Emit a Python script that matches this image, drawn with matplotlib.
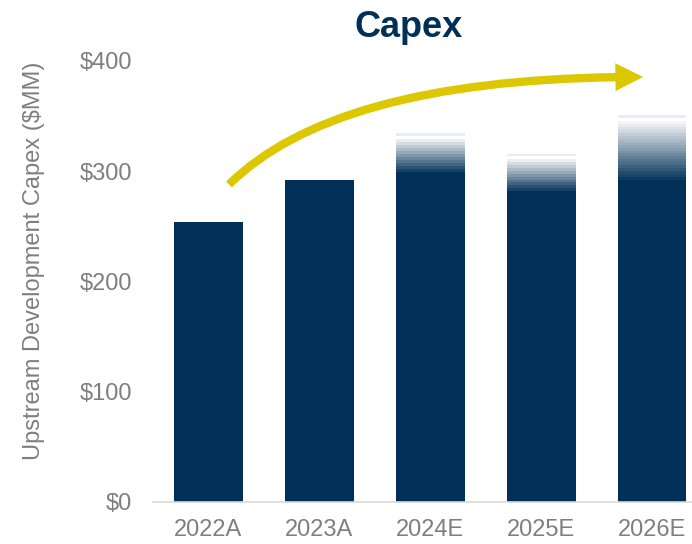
import matplotlib
matplotlib.use("Agg")
import matplotlib.pyplot as plt
import numpy as np
from matplotlib.patches import FancyArrowPatch
from matplotlib.path import Path
from matplotlib.colors import to_rgb

plt.rcParams['font.family'] = ['Liberation Sans', 'DejaVu Sans']

# Upstream development capex ($MM): actuals, and low/high range for estimates
categories = ['2022A', '2023A', '2024E', '2025E', '2026E']
capex_low = [254, 292, 299, 282, 292]
capex_high = [254, 292, 335, 316, 351]
y_ticks = [0, 100, 200, 300, 400]
y_tick_labels = ['$0', '$100', '$200', '$300', '$400']

NAVY = '#003057'
GRAY_TEXT = '#7F7F7F'
YELLOW = '#DCC800'
BAR_W = 0.62
BAND_UNITS = 2.7      # approximate height of one fade band, in $MM

fig = plt.figure(figsize=(6.92, 5.44), dpi=100)
ax = fig.add_axes([153 / 692, 42 / 544, 539 / 692, 441 / 544])

x = np.arange(len(categories))
ax.bar(x, capex_low, width=BAR_W, color=NAVY, zorder=2)

# Estimate range: fading bands from the low case up to the high case,
# topped by a thin light cap separated by a white gap
navy_rgb = np.array(to_rgb(NAVY))
white = np.ones(3)
for xi, lo, hi in zip(x, capex_low, capex_high):
    if hi <= lo:
        continue
    n = max(4, int(round((hi - lo) / BAND_UNITS)))
    h = (hi - lo) / n
    for k in range(n):
        if k == n - 1:
            col = '#E9ECF0'
        elif k == n - 2:
            col = 'white'
        else:
            t = (k + 1) / (n - 1)
            col = tuple(navy_rgb * (1 - t) + white * t)
        ax.bar(xi, h, bottom=lo + k * h, width=BAR_W, color=col,
               linewidth=0, zorder=2)

ax.set_xlim(-0.5, 4.36)
ax.set_ylim(0, 400)
ax.set_xticks(x)
ax.set_xticklabels(categories)
ax.set_yticks(y_ticks)
ax.set_yticklabels(y_tick_labels)
ax.tick_params(axis='both', length=0, labelsize=17, colors=GRAY_TEXT)
ax.tick_params(axis='x', pad=12)
ax.tick_params(axis='y', pad=15)

for side in ['top', 'right', 'left']:
    ax.spines[side].set_visible(False)
ax.spines['bottom'].set_color('#D9D9D9')
ax.spines['bottom'].set_linewidth(1.2)

ax.set_ylabel('Upstream Development Capex ($MM)', fontsize=17, color=GRAY_TEXT)
ax.yaxis.set_label_coords(-0.201, 0.546)

# Growth arrow sweeping over the bars
arrow_path = Path([(0.185, 288), (1.17, 386), (3.92, 385.5)],
                  [Path.MOVETO, Path.CURVE3, Path.CURVE3])
arrow = FancyArrowPatch(path=arrow_path,
                        arrowstyle='simple,head_length=1.0,head_width=1.0,tail_width=0.3',
                        mutation_scale=20, color=YELLOW, linewidth=0,
                        zorder=3, clip_on=False)
ax.add_patch(arrow)

fig.text(409 / 692, (544 - 37) / 544, 'Capex', fontsize=26, fontweight='bold',
         color=NAVY, ha='center', va='baseline')

fig.savefig('out.png', dpi=100)
